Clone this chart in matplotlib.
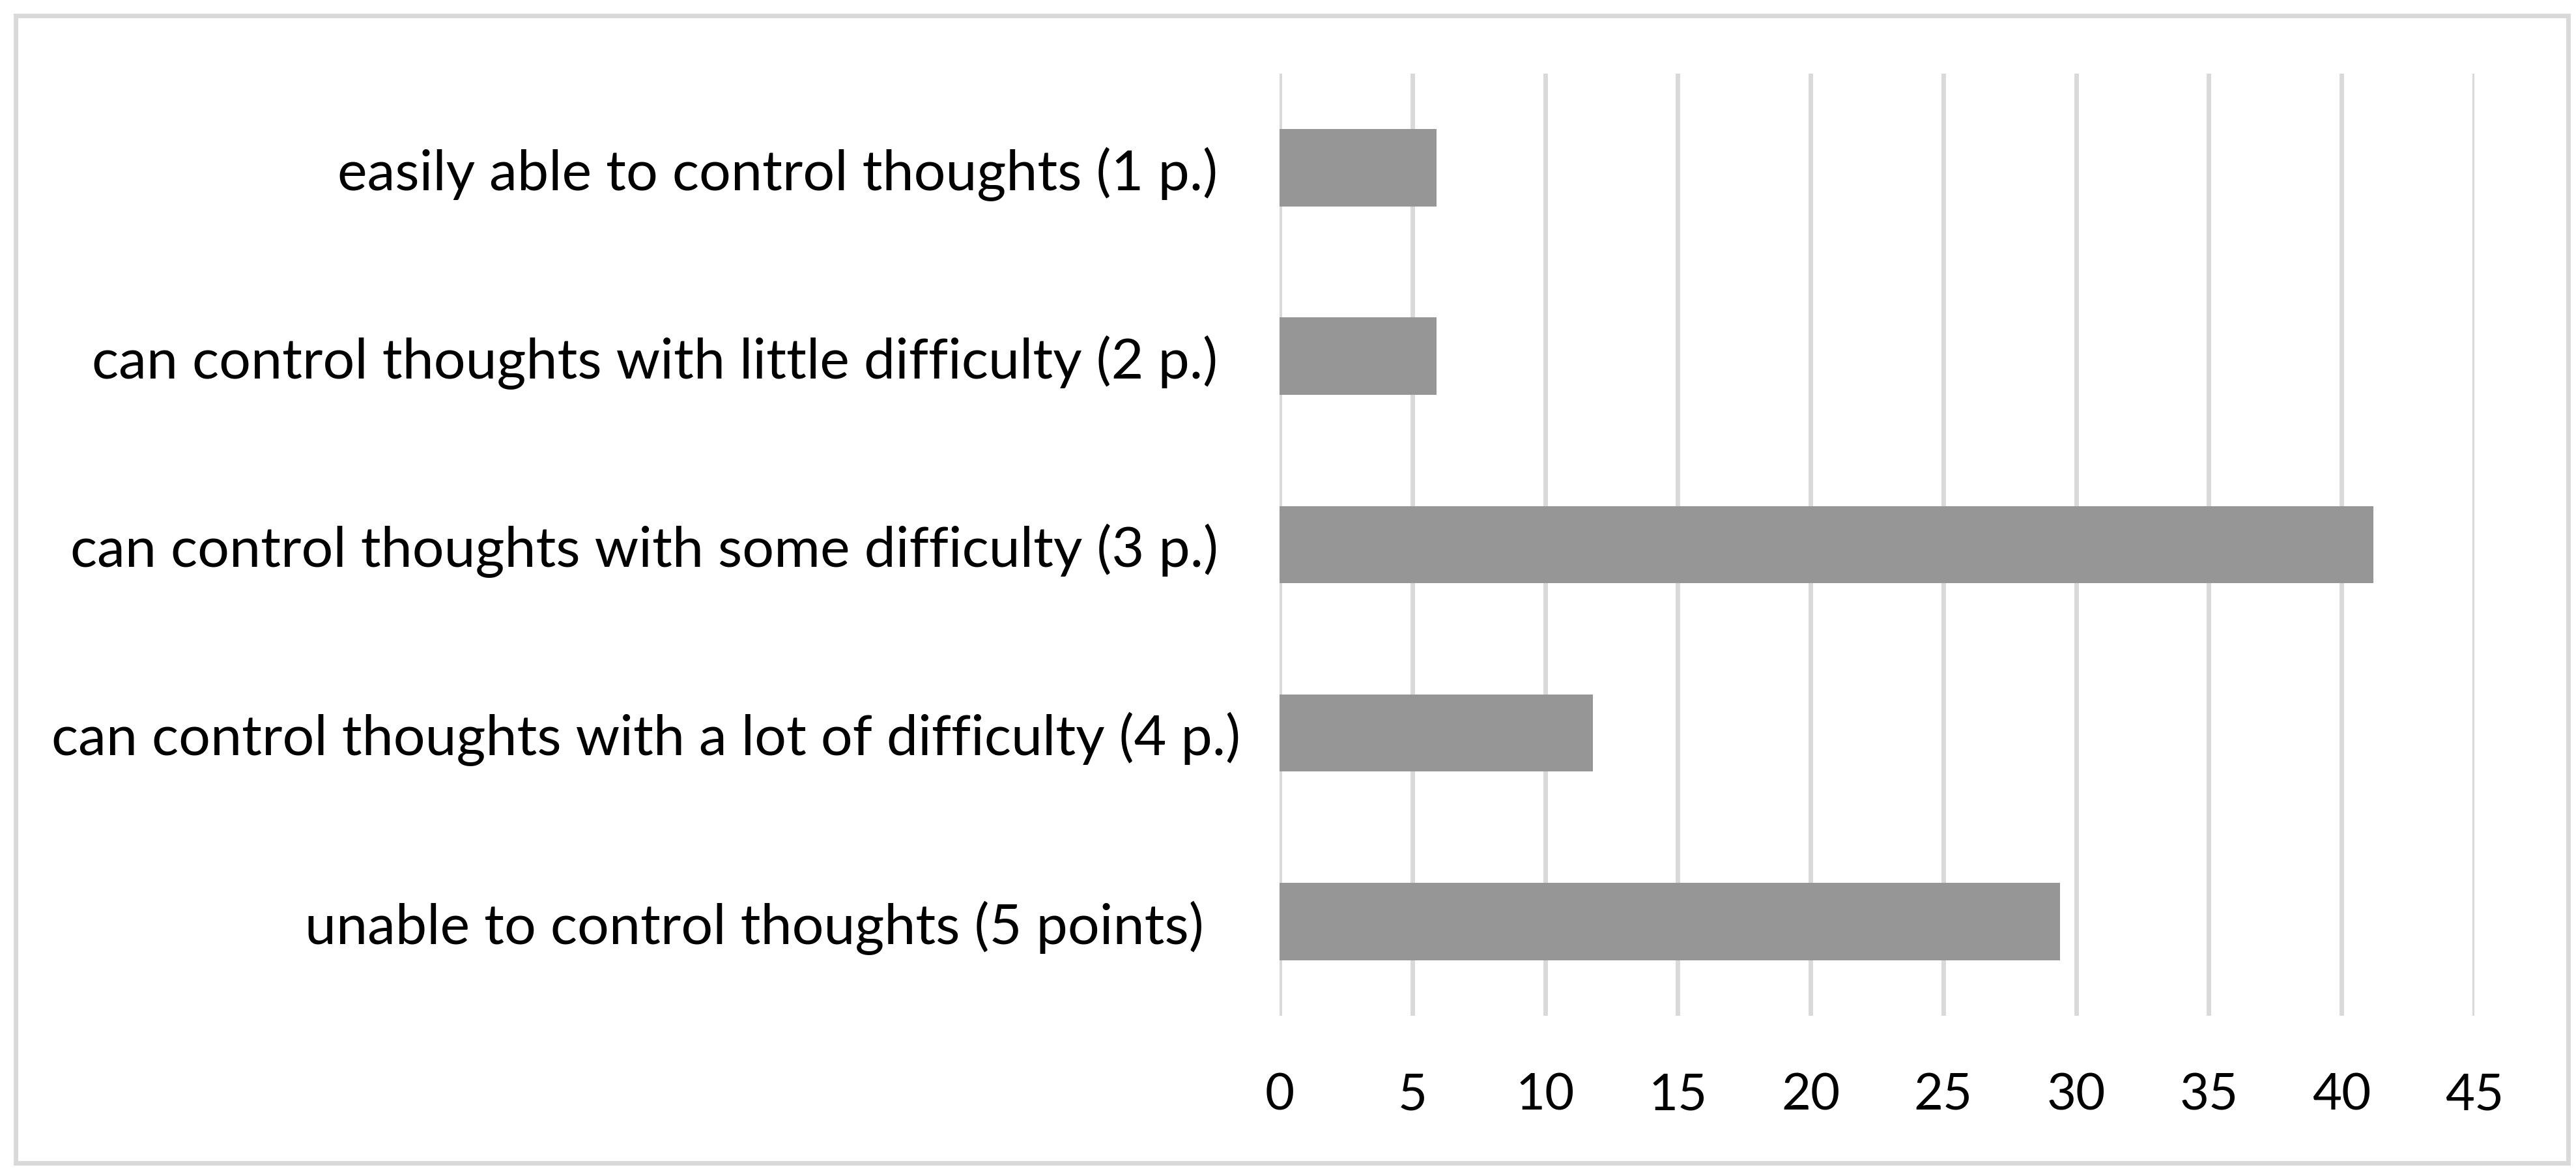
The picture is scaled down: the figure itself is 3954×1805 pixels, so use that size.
import matplotlib
matplotlib.use("Agg")
import matplotlib.pyplot as plt
from matplotlib.patches import Rectangle

# categories from top to bottom, as in the picture
categories = [
    "easily able to control thoughts (1 p.)",
    "can control thoughts with little difficulty (2 p.)",
    "can control thoughts with some difficulty (3 p.)",
    "can control thoughts with a lot of difficulty (4 p.)",
    "unable to control thoughts (5 points) ",
]
values = [5.9, 5.9, 41.2, 11.8, 29.4]
x_ticks = [0, 5, 10, 15, 20, 25, 30, 35, 40, 45]

plt.rcParams['font.family'] = ['Lato', 'DejaVu Sans']

fig = plt.figure(figsize=(39.55, 18.06), dpi=100)
ax = fig.add_axes([0.4966, 0.1362, 0.9603 - 0.4966, 0.9369 - 0.1362])

y = list(range(len(categories)))
ax.barh(y, values, height=0.41, color="#969696", zorder=2)
ax.set_yticks(y)
ax.set_yticklabels(categories)
ax.set_ylim(len(categories) - 0.5, -0.5)

ax.set_xlim(0, 45)
ax.set_xticks(x_ticks)
ax.set_xticklabels([str(t) for t in x_ticks])

ax.grid(axis="x", color="#D9D9D9", linewidth=5, zorder=0)
ax.set_axisbelow(True)
for s in ax.spines.values():
    s.set_visible(False)

ax.tick_params(axis="y", length=0, pad=68, labelsize=62)
ax.tick_params(axis="x", length=0, pad=62, labelsize=56)

# the longest label sits a bit closer to the axis in the original
ax.get_yticklabels()[3].set_x(0.019)

# outer chart frame
fig.patches.append(Rectangle((24 / 3955, 1 - 1786 / 1806), (3942 - 24) / 3955, (1786 - 25) / 1806,
                             transform=fig.transFigure, fill=False,
                             edgecolor="#D9D9D9", linewidth=5))

fig.savefig("out.png", dpi=100, facecolor="white")
